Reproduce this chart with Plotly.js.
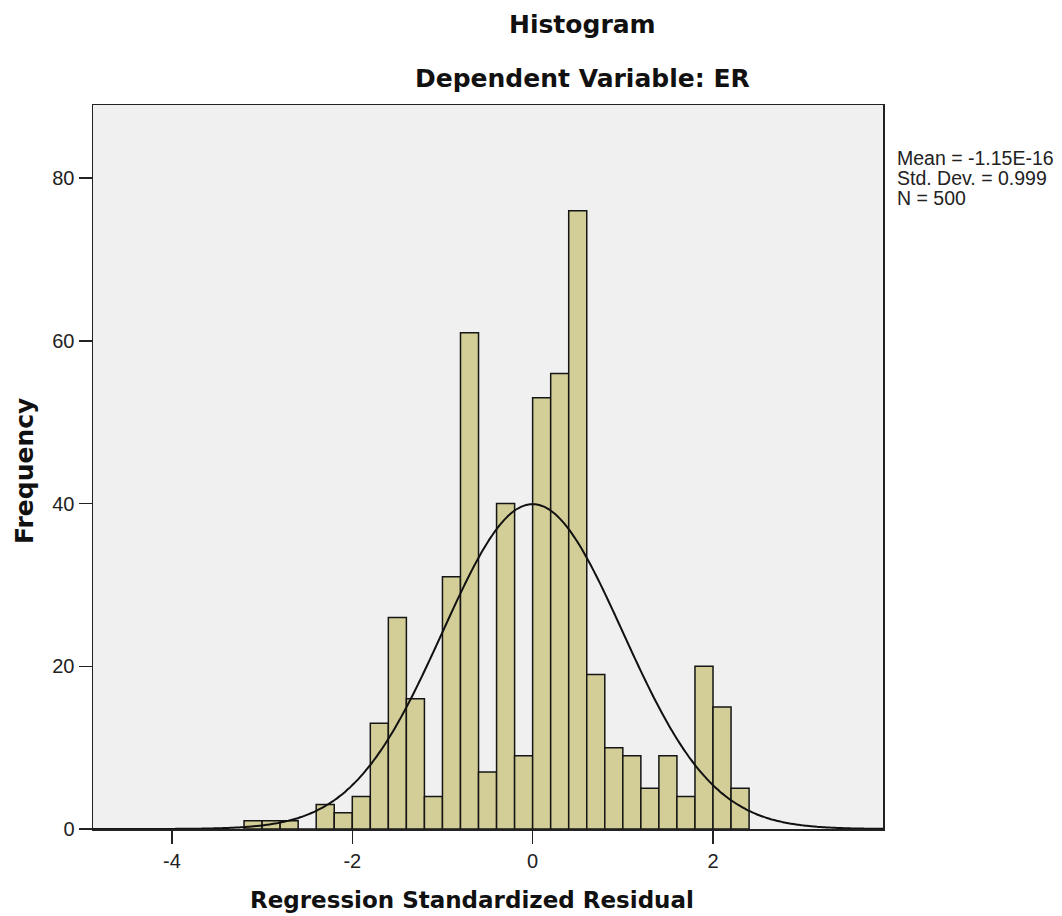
<!DOCTYPE html>
<html>
<head>
<meta charset="utf-8">
<script src="https://cdn.plot.ly/plotly-3.0.1.min.js"></script>
<style>
  html, body { margin: 0; padding: 0; background: #ffffff; }
  #chart { width: 1062px; height: 916px; }
</style>
</head>
<body>
<div id="chart"></div>
<script>
// ---- data ----
const binStart = -3.2;   // lower edge of the first bin
const binWidth = 0.2;
const frequencies = [1, 1, 1, 0, 3, 2, 4, 13, 26, 16, 4, 31, 61, 7, 40, 9, 53, 56, 76, 19, 10, 9, 5, 9, 4, 20, 15, 5];
const statMean = -1.15e-16;
const statStdDev = 0.999;
const statN = 500;
const statLabels = ["Mean = -1.15E-16", "Std. Dev. = 0.999", "N = 500"];
const xTickVals = [-4, -2, 0, 2];
const yTickVals = [0, 20, 40, 60, 80];
const chartTitle = "Histogram";
const chartSubtitle = "Dependent Variable: ER";
const xTitle = "Regression Standardized Residual";
const yTitle = "Frequency";

// ---- derived ----
const binCenters = frequencies.map((_, i) => binStart + binWidth * (i + 0.5));
const xRange = [-4.875, 3.885];
const yRange = [0, 89];

// fitted normal curve (N * bin width * normal pdf of the stated mean / sd)
const curveX = [], curveY = [];
const steps = 300;
for (let i = 0; i <= steps; i++) {
  const x = xRange[0] + (xRange[1] - xRange[0]) * i / steps;
  const z = (x - statMean) / statStdDev;
  curveX.push(x);
  curveY.push(statN * binWidth * Math.exp(-0.5 * z * z) / (statStdDev * Math.sqrt(2 * Math.PI)));
}

// ---- layout helpers (pixel -> paper) ----
const W = 1062, H = 916;
const M = { l: 93, r: 179, t: 105, b: 87 };
const pw = W - M.l - M.r, ph = H - M.t - M.b;
const px = x => (x - M.l) / pw;
const py = y => (H - M.b - y) / ph;

const boldFont = "DejaVu Sans, Verdana, sans-serif";
const regFont = "Liberation Sans, Arial, sans-serif";

const traces = [
  {
    type: "bar",
    x: binCenters,
    y: frequencies,
    width: binWidth,
    marker: { color: "#d3ce97", line: { color: "#151515", width: 1.5 } },
    hoverinfo: "x+y",
    showlegend: false
  },
  {
    type: "scatter",
    mode: "lines",
    x: curveX,
    y: curveY,
    line: { color: "#111111", width: 2, shape: "spline" },
    hoverinfo: "skip",
    showlegend: false
  }
];

const annotations = [
  { text: "<b>" + chartTitle + "</b>", x: px(582.5), y: py(24.5), font: { family: boldFont, size: 25, color: "#111" } },
  { text: "<b>" + chartSubtitle + "</b>", x: px(582.5), y: py(78), font: { family: boldFont, size: 25, color: "#111" } },
  { text: "<b>" + xTitle + "</b>", x: px(472), y: py(900), font: { family: boldFont, size: 23, color: "#111" } },
  { text: "<b>" + yTitle + "</b>", x: px(24), y: py(471), textangle: -90, font: { family: boldFont, size: 25, color: "#111" } }
].map(a => Object.assign({ xref: "paper", yref: "paper", xanchor: "center", yanchor: "middle", showarrow: false }, a));

const statY = [158, 178, 198];
statLabels.forEach((t, i) => {
  annotations.push({
    text: t, xref: "paper", yref: "paper", x: px(895), y: py(statY[i]),
    xanchor: "left", yanchor: "middle", showarrow: false,
    font: { family: regFont, size: 19.5, color: "#222" }
  });
});

const layout = {
  width: W, height: H,
  margin: M,
  paper_bgcolor: "#ffffff",
  plot_bgcolor: "#f0f0f0",
  bargap: 0,
  font: { family: regFont, color: "#222" },
  xaxis: {
    range: xRange, tickmode: "array", tickvals: xTickVals, ticktext: xTickVals.map(String),
    ticks: "outside", ticklen: 13, tickwidth: 1.5, tickcolor: "#222",
    showgrid: false, zeroline: false,
    showline: true, linecolor: "#222", linewidth: 1.5, mirror: true,
    tickfont: { family: regFont, size: 20, color: "#222" }
  },
  yaxis: {
    range: yRange, tickmode: "array", tickvals: yTickVals, ticktext: yTickVals.map(String),
    ticks: "outside", ticklen: 13, tickwidth: 1.5, tickcolor: "#222",
    showgrid: false, zeroline: false,
    showline: true, linecolor: "#222", linewidth: 1.5, mirror: true,
    tickfont: { family: regFont, size: 20, color: "#222" }
  },
  annotations: annotations
};

Plotly.newPlot("chart", traces, layout, { displayModeBar: false, staticPlot: true });
</script>
</body>
</html>
